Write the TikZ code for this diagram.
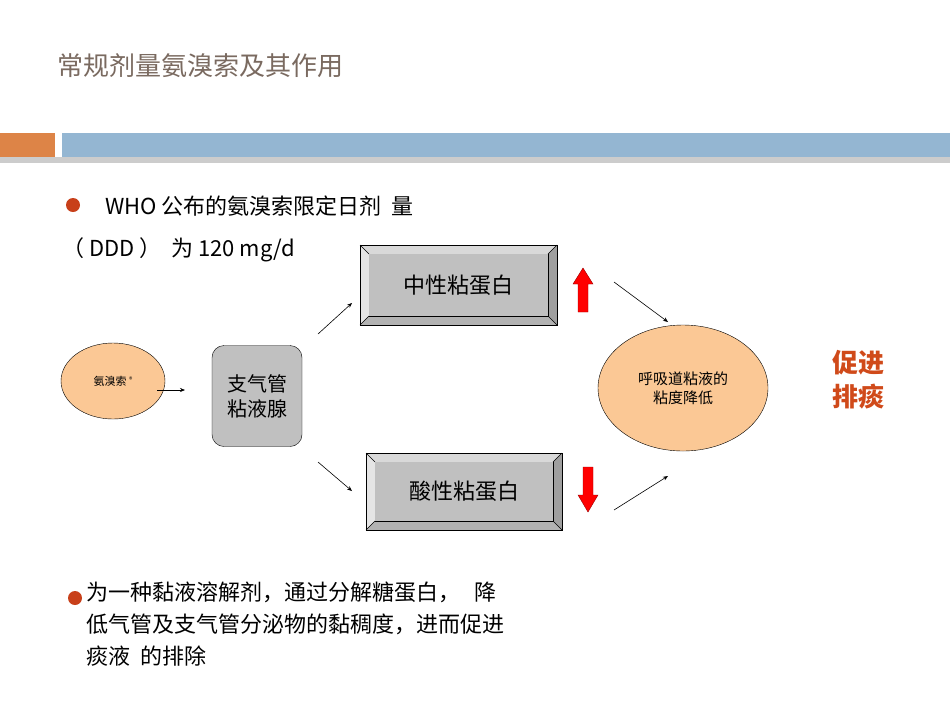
\documentclass[tikz,border=0pt]{standalone}
\usepackage{fontspec}
\setmainfont{Noto Sans CJK SC}
\usetikzlibrary{shapes.geometric,arrows.meta}
\definecolor{peach}{HTML}{FBC895}
\definecolor{boxg}{HTML}{C0C0C0}
\definecolor{ttl}{HTML}{7A6A60}
\definecolor{bul}{HTML}{C8401A}
\definecolor{accent}{HTML}{D04A1A}
\definecolor{barblue}{HTML}{94B6D2}
\definecolor{barorange}{HTML}{DD8447}
\tikzset{
 conn/.style={-{Stealth[length=5pt,width=4pt]},line width=0.6pt},
 bev/.style={draw=black,line width=0.6pt},
 txt/.style={font=\fontsize{22}{26}\selectfont,anchor=west,inner sep=0pt},
}
\newcommand{\bevbox}[5]{% name,x1,y1,x2,y2
 \fill[gray!55] (#2,#3) rectangle (#4,#5);
 \fill[gray!30] (#2,#3) -- (#4,#3) -- (#4-9,#3+9) -- (#2+9,#3+9) -- cycle;
 \fill[gray!20] (#2,#3) -- (#2+9,#3+9) -- (#2+9,#5-9) -- (#2,#5) -- cycle;
 \fill[gray!75] (#4,#3) -- (#4,#5) -- (#4-9,#5-9) -- (#4-9,#3+9) -- cycle;
 \fill[gray!60] (#2,#5) -- (#4,#5) -- (#4-9,#5-9) -- (#2+9,#5-9) -- cycle;
 \draw[bev] (#2,#3) rectangle (#4,#5);
 \draw[bev] (#2+9,#3+9) rectangle (#4-9,#5-9);
 \draw[bev] (#2,#3)--(#2+9,#3+9) (#4,#3)--(#4-9,#3+9) (#2,#5)--(#2+9,#5-9) (#4,#5)--(#4-9,#5-9);
 \fill[boxg] (#2+9.3,#3+9.3) rectangle (#4-9.3,#5-9.3);
 \node[minimum width=#4-#2-18,minimum height=#5-#3-18,inner sep=0pt] (#1) at ({(#2+#4)/2},{(#3+#5)/2}) {};
}
\begin{document}
\begin{tikzpicture}[x=1pt,y=-1pt]
\useasboundingbox (0,0) rectangle (950,713);
\fill[white] (0,0) rectangle (950,713);
\node[anchor=west,text=ttl,font=\fontsize{26}{30}\selectfont,inner sep=0pt] (title) at (57,66) {常规剂量氨溴索及其作用};
\fill[gray!40] (0,157) rectangle (950,163);
\fill[barorange] (0,133) rectangle (55,157);
\fill[barblue] (62,133) rectangle (950,157);
\fill[bul] (73,205) circle (7);
\node[txt] (l1) at (105,206) {WHO 公布的氨溴索限定日剂\ \ 量};
\node[txt] (l2) at (62,250) {（ DDD ）\ \ 为 120 mg/d};
\bevbox{nb}{360}{245}{557}{325}
\node[font=\fontsize{22}{26}\selectfont] at (nb) {中性粘蛋白};
\bevbox{sb}{366}{453}{562}{530}
\node[font=\fontsize{22}{26}\selectfont] at (sb) {酸性粘蛋白};
\fill[red,draw=red!60!black,line width=0.4pt] (578,312)--(578,284)--(573,284)--(583,268)--(593,284)--(588,284)--(588,312)--cycle;
\fill[red,draw=red!60!black,line width=0.4pt] (583,467)--(583,495)--(578,495)--(588,512)--(598,495)--(593,495)--(593,467)--cycle;
\node[ellipse,draw,fill=peach,minimum width=104,minimum height=76,font=\fontsize{11}{13}\selectfont] (am) at (113,381) {氨溴索 \raisebox{3pt}{\fontsize{7}{8}\selectfont ®}};
\node[draw,fill=boxg,rounded corners=12,minimum width=90,minimum height=101,font=\fontsize{20}{25}\selectfont,align=center] (gl) at (257,396) {支气管\\粘液腺};
\node[ellipse,draw,fill=peach,minimum width=170,minimum height=126,font=\fontsize{15}{19}\selectfont,align=center] (vi) at (683,388) {呼吸道粘液的\\粘度降低};
\coordinate (a1) at (157,390); \coordinate (a2) at (185,390);
\draw[conn] (a1)--(a2);
\coordinate (b1) at (318,334); \coordinate (b2) at (352,303);
\draw[conn] (b1)--(b2);
\coordinate (c1) at (318,462); \coordinate (c2) at (352,491);
\draw[conn] (c1)--(c2);
\coordinate (d1) at (614,282); \coordinate (d2) at (668,322);
\draw[conn] (d1)--(d2);
\coordinate (e1) at (614,510); \coordinate (e2) at (668,476);
\draw[conn] (e1)--(e2);
\node[text=accent,font=\bfseries\fontsize{26}{34}\selectfont,align=center] (cj) at (858,380) {促进\\排痰};
\fill[bul] (75,598) circle (7);
\node[txt,anchor=north west,align=left,font=\fontsize{22}{32}\selectfont] (bt) at (86,582) {为一种黏液溶解剂，通过分解糖蛋白，\ \ \ 降\\低气管及支气管分泌物的黏稠度，进而促进\\痰液\ \ 的排除};
\end{tikzpicture}
\end{document}
